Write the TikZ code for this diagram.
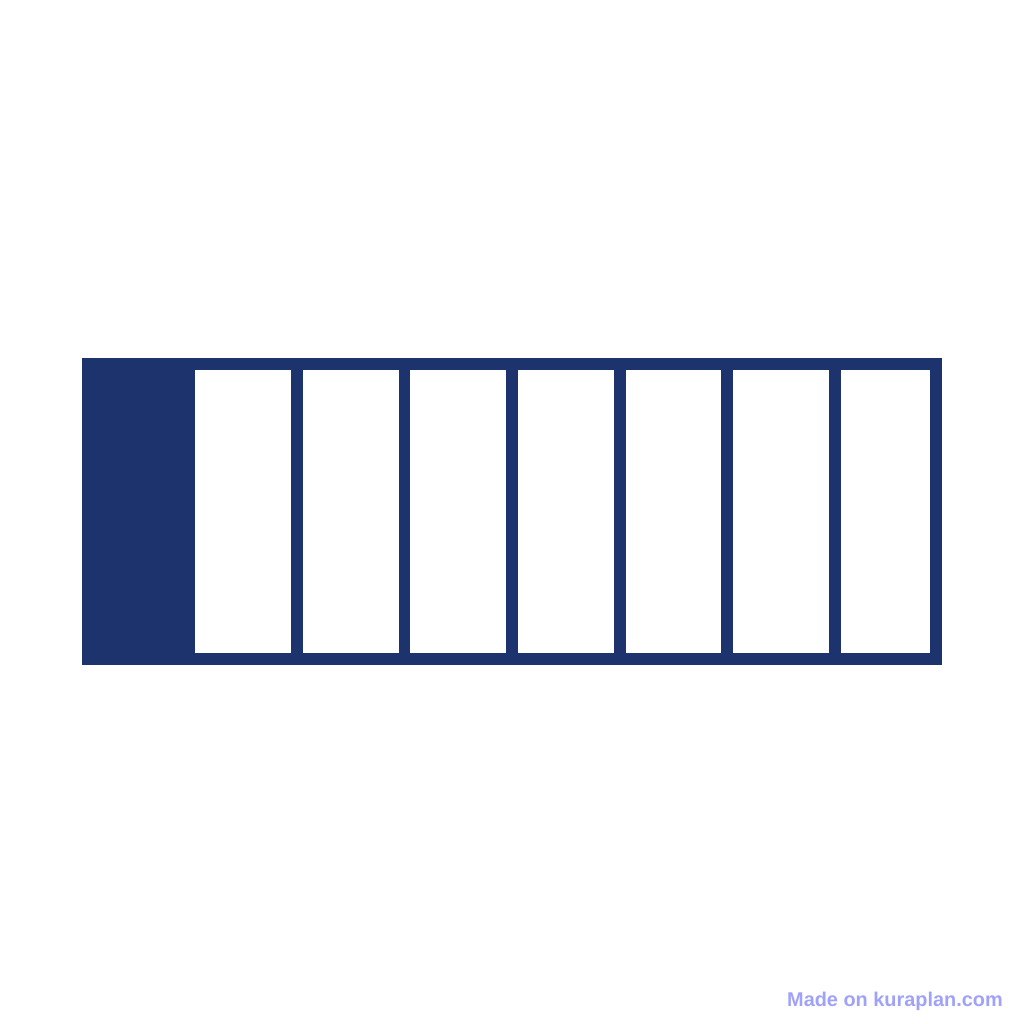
\documentclass[tikz,border=0pt]{standalone}
\usepackage{fontspec}
\setmainfont{Liberation Sans}
\definecolor{navy}{RGB}{28,51,110}
\definecolor{mark}{RGB}{160,162,250}
\begin{document}
\begin{tikzpicture}[x=1pt,y=-1pt,
  cell/.style={fill=white}]
\useasboundingbox (0,0) rectangle (1024,1024);
\fill[white] (0,0) rectangle (1024,1024);
\fill[navy] (82,358) rectangle (942,665);
\foreach \l/\r in {195/291,303/398.5,410/506,518/613.5,625.7/721,733.3/828.5,840.7/930}
  \fill[cell] (\l,370.3) rectangle (\r,653.3);
\node[anchor=base east,inner sep=0pt,text=mark,font=\fontsize{19.9}{22}\selectfont\bfseries] (wm) at (1003,1006) {Made on kuraplan.com};
\end{tikzpicture}
\end{document}
